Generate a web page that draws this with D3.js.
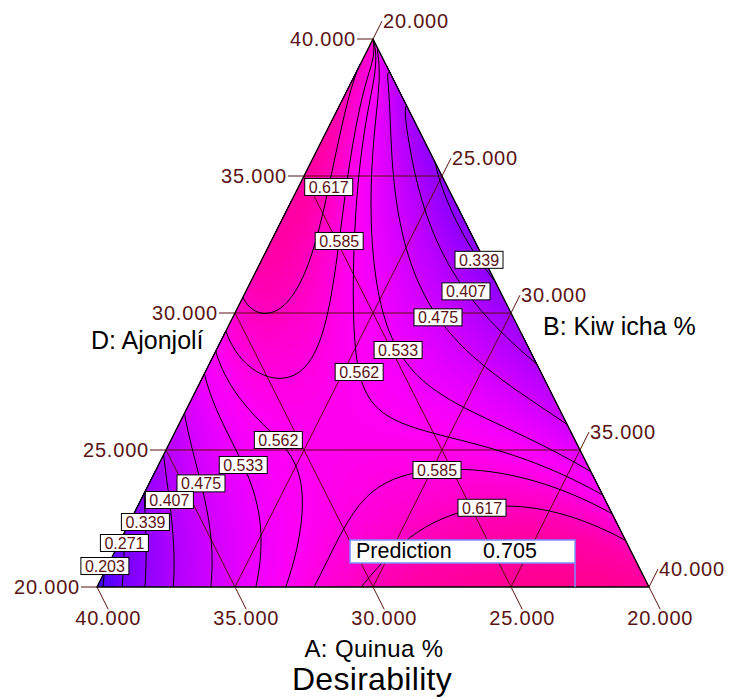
<!DOCTYPE html>
<html>
<head>
<meta charset="utf-8">
<script src="https://cdn.jsdelivr.net/npm/d3@7"></script>
<style>
  body { margin: 0; background: #fff; }
  svg { display: block; font-family: "Liberation Sans", Arial, sans-serif; }
</style>
</head>
<body>
<svg id="chart" width="729" height="697"></svg>
<script>
// ---- Desirability readings over the mixture (Kiwicha B %, Ajonjolí D %; Quinua A = 80 - B - D)
const sampleB = [20, 20.22, 20.62, 21.41, 22.36, 23.55, 26.63, 27.61, 28.44, 29.75, 33.00, 37.32, 40,
  20, 20.17, 20, 20, 20, 20, 20, 20, 20, 20, 20,
  21.31, 22.52, 24.31, 26.42, 28.50, 32.63, 33.54, 35.36, 36.46, 37.37, 38.54,
  21.11, 21.03, 21.84, 21.26, 21.65, 22.42, 23.00, 23.15, 22.97, 22.47, 20.33,
  22.26, 20.51, 25.64, 26.66, 29.95, 34.70, 22.66, 20.69, 26.58, 30.10,
  23.10, 27.43, 23.71, 26.02, 28.02, 24.66, 26.53, 27.98,
  20.59, 21.09, 22.03, 23.32, 24.04, 25.77, 27.11, 27.32, 30.09, 34.01,
  29.50, 30.14, 32.51, 36.37, 25.21, 20.66, 34.00,
  23.32, 25.51, 27.34, 30.26, 31.53, 23.18, 20.77, 29.53];
const sampleD = [20, 20, 20, 20, 20, 20, 20, 20, 20, 20, 20, 20, 20,
  20.99, 21.53, 23.6, 24.7, 25.99, 27.55, 28.36, 29.20, 30.58, 34.12, 39.12,
  38.69, 37.48, 35.69, 33.58, 31.50, 27.37, 26.46, 24.64, 23.54, 22.63, 21.46,
  35.04, 34.60, 32.12, 30.95, 35.04, 32.63, 31.09, 29.85, 28.76, 28.54, 39.12,
  35.04, 39.12, 27.85, 26.46, 25.11, 24.16, 35.04, 39.12, 28.65, 26.82,
  35.04, 29.85, 35.04, 33.03, 30.84, 35.04, 33.03, 32.08,
  22.37, 23.18, 23.83, 24.60, 25.62, 23.18, 23.18, 23.91, 24.45, 23.36,
  21.72, 22.19, 22.88, 22.26, 26.09, 33.39, 21.00,
  36.68, 34.49, 32.66, 29.74, 28.47, 36.31, 39.23, 30.47];
const sampleValue = [0.13, 0.203, 0.271, 0.339, 0.407, 0.475, 0.533, 0.562, 0.585, 0.617, 0.675, 0.705, 0.67,
  0.203, 0.271, 0.339, 0.407, 0.475, 0.533, 0.562, 0.585, 0.617, 0.65, 0.617,
  0.475, 0.407, 0.339, 0.32, 0.339, 0.407, 0.475, 0.533, 0.562, 0.585, 0.617,
  0.617, 0.617, 0.617, 0.617, 0.585, 0.585, 0.585, 0.585, 0.585, 0.585, 0.585,
  0.562, 0.562, 0.562, 0.562, 0.562, 0.562, 0.533, 0.533, 0.533, 0.533,
  0.475, 0.475, 0.407, 0.407, 0.407, 0.339, 0.339, 0.339,
  0.339, 0.407, 0.475, 0.533, 0.562, 0.562, 0.585, 0.585, 0.585, 0.585,
  0.617, 0.617, 0.617, 0.617, 0.573, 0.64, 0.67,
  0.375, 0.322, 0.322, 0.36, 0.385, 0.40, 0.50, 0.35];

// ---- Contour levels and their label anchors
const contourLevels = [0.203, 0.271, 0.339, 0.407, 0.475, 0.533, 0.562, 0.585, 0.617];
const labelLevel = [0.617, 0.585, 0.339, 0.407, 0.475, 0.533, 0.562, 0.562, 0.533, 0.475, 0.407, 0.339, 0.271, 0.203, 0.585, 0.617];
const labelB = [21.03, 22.42, 27.98, 28.02, 27.43, 26.58, 25.64, 24.04, 23.32, 22.03, 21.09, 20.59, 20.07, 20.39, 30.09, 32.51];
const labelD = [34.60, 32.63, 32.08, 30.84, 29.85, 28.65, 27.85, 25.62, 24.60, 23.83, 23.18, 22.37, 21.61, 20.88, 24.45, 22.88];

// ---- Axes
const tickValues = [20, 25, 30, 35, 40];
const gridValuesPct = [25, 30, 35];
const titleA = "A: Quinua %", titleB = "B: Kiw icha %", titleD = "D: Ajonjolí", chartTitle = "Desirability";

// ---- Prediction flag
const predictionB = 37.32, predictionD = 20, predictionValue = 0.705;

// ---------------------------------------------------------------
const svg = d3.select("#chart");
const tickColor = "#5a1414", gridColor = "#5c0d0d";

// Ajonjolí sets the row height, Kiwicha the position along the row
const yOfD = d3.scaleLinear().domain([20, 40]).range([587, 39]);
const xOfD = d3.scaleLinear().domain([20, 40]).range([97, 373]);
const xOfB = d3.scaleLinear().domain([20, 40]).range([0, 552]);
const proj = (B, D) => [xOfD(D) + xOfB(B), yOfD(D)];
const unproj = (x, y) => { const D = yOfD.invert(y); return [xOfB.invert(x - xOfD(D)), D]; };

// Ratio mixture model: quintic in d (Ajonjolí share) and r = B/(A+B), least squares
const degree = 5;
const frac = v => (v - 20) / 20;
function ratioCoords(B, D) {
  const d = Math.min(frac(D), 0.999);
  const r = Math.max(-0.3, Math.min(1.3, frac(B) / (1 - d)));
  return [r, d];
}
function terms(r, d) {
  const t = [];
  for (let i = 0; i <= degree; i++) for (let j = 0; j <= degree - i; j++) t.push(Math.pow(r, i) * Math.pow(d, j));
  return t;
}
const nT = terms(0, 0).length;
const normal = Array.from({ length: nT }, () => new Float64Array(nT + 1));
sampleB.forEach((B, k) => {
  const t = terms(...ratioCoords(B, sampleD[k]));
  for (let i = 0; i < nT; i++) {
    normal[i][nT] += t[i] * sampleValue[k];
    for (let j = 0; j < nT; j++) normal[i][j] += t[i] * t[j];
  }
});
for (let i = 0; i < nT; i++) normal[i][i] += 1e-5;
for (let c = 0; c < nT; c++) {
  let p = c;
  for (let r = c + 1; r < nT; r++) if (Math.abs(normal[r][c]) > Math.abs(normal[p][c])) p = r;
  [normal[c], normal[p]] = [normal[p], normal[c]];
  for (let r = 0; r < nT; r++) {
    if (r === c) continue;
    const f = normal[r][c] / normal[c][c];
    for (let k = c; k <= nT; k++) normal[r][k] -= f * normal[c][k];
  }
}
const coef = normal.map((row, i) => row[nT] / row[i]);
const model = (B, D) => { const t = terms(...ratioCoords(B, D)); let s = 0; for (let i = 0; i < nT; i++) s += coef[i] * t[i]; return s; };

function sampleGrid(x0, y0, nx, ny, s) {
  const vals = new Float64Array(nx * ny);
  for (let j = 0; j < ny; j++) for (let i = 0; i < nx; i++) {
    const [B, D] = unproj(x0 + i * s, y0 + j * s);
    vals[j * nx + i] = model(B, D);
  }
  return vals;
}
const gridPath = (x0, y0, s) => d3.geoPath(d3.geoTransform({
  point(x, y) { this.stream.point(x0 + (x - 0.5) * s, y0 + (y - 0.5) * s); }
}));

const vTop = proj(20, 40), vLeft = proj(20, 20), vRight = proj(40, 20);
svg.append("defs").append("clipPath").attr("id", "tri")
  .append("polygon").attr("points", [vTop, vLeft, vRight].map(p => p.join(",")).join(" "));

const plot = svg.append("g").attr("clip-path", "url(#tri)");

// Colour ramp: blue (low) through violet and magenta to pink (high)
const color = d3.scaleLinear()
  .domain([0.12, 0.2, 0.27, 0.32, 0.37, 0.42, 0.475, 0.53, 0.565, 0.6, 0.64, 0.71])
  .range(["#1a10ff", "#4a08ff", "#7400ff", "#8a00ff", "#9e00ff", "#b600ff", "#d000ff", "#ee00ff", "#ff00f4", "#ff00d0", "#ff00aa", "#ff008a"])
  .clamp(true);

// Smooth shaded fill
const fx0 = 88, fy0 = 30, fs = 2, fnx = 288, fny = 284;
const fillVals = sampleGrid(fx0, fy0, fnx, fny, fs);
const fillStep = 0.004;
const fillThresholds = d3.range(0.0, 0.8, fillStep);
plot.append("rect").attr("x", fx0 - 4).attr("y", fy0 - 4).attr("width", fnx * fs + 8).attr("height", fny * fs + 8)
  .attr("fill", color(d3.min(fillVals)));
const fillPath = gridPath(fx0, fy0, fs);
plot.append("g").selectAll("path")
  .data(d3.contours().size([fnx, fny]).thresholds(fillThresholds)(fillVals))
  .join("path")
  .attr("d", fillPath)
  .attr("fill", d => color(d.value + fillStep / 2))
  .attr("stroke", d => color(d.value + fillStep / 2))
  .attr("stroke-width", 0.6);

// Grid lines of constant A, B and D
const gridLines = [];
gridValuesPct.forEach(v => {
  gridLines.push([proj(20, v), proj(60 - v, v)]);        // D = v
  gridLines.push([proj(v, 20), proj(v, 60 - v)]);        // B = v
  gridLines.push([proj(60 - v, 20), proj(20, 60 - v)]);  // A = v
});
plot.append("g").selectAll("line").data(gridLines).join("line")
  .attr("x1", d => d[0][0]).attr("y1", d => d[0][1])
  .attr("x2", d => d[1][0]).attr("y2", d => d[1][1])
  .attr("stroke", gridColor).attr("stroke-width", 1);

// Contour lines
const lx0 = 88, ly0 = 30, ls = 1, lnx = 572, lny = 566;
const lineVals = sampleGrid(lx0, ly0, lnx, lny, ls);
const lineContours = d3.contours().size([lnx, lny]).thresholds(contourLevels)(lineVals);
const linePath = gridPath(lx0, ly0, ls);
plot.append("g").selectAll("path").data(lineContours).join("path")
  .attr("d", linePath).attr("fill", "none").attr("stroke", "#000").attr("stroke-width", 1);

// Triangle outline
svg.append("polygon").attr("points", [vTop, vLeft, vRight].map(p => p.join(",")).join(" "))
  .attr("fill", "none").attr("stroke", "#000").attr("stroke-width", 1.4);

// Contour labels placed on their lines
function inside(x, y) {
  const [B, D] = unproj(x, y);
  return D >= 19.9 && B >= 19.9 && (80 - B - D) >= 19.9;
}
function snap(level, tx, ty) {
  const geom = lineContours.find(c => Math.abs(c.value - level) < 1e-9);
  let best = [tx, ty], bd = 22 * 22;
  geom.coordinates.forEach(poly => poly.forEach(ring => ring.forEach(([cx, cy]) => {
    const X = lx0 + (cx - 0.5) * ls, Y = ly0 + (cy - 0.5) * ls;
    if (!inside(X, Y)) return;
    const dd = (X - tx) ** 2 + (Y - ty) ** 2;
    if (dd < bd) { bd = dd; best = [X, Y]; }
  })));
  return best;
}
const labels = labelLevel.map((lv, i) => {
  const [tx, ty] = proj(labelB[i], labelD[i]);
  const [x, y] = snap(lv, tx, ty);
  return { lv, x, y };
});
const lab = svg.append("g").selectAll("g").data(labels).join("g")
  .attr("transform", d => `translate(${d.x},${d.y})`);
lab.append("rect").attr("x", -24).attr("y", -8.5).attr("width", 48).attr("height", 17)
  .attr("fill", "#fff").attr("stroke", "#000").attr("stroke-width", 1);
lab.append("text").attr("text-anchor", "middle").attr("y", 6)
  .attr("font-size", 16).attr("fill", tickColor).text(d => d.lv.toFixed(3));

// Axis ticks and labels
const up = [0.4498, -0.8931], down = [0.4498, 0.8931];
const axes = svg.append("g").attr("font-size", 20).attr("fill", tickColor).attr("letter-spacing", "0.8px");
tickValues.forEach(v => {
  // D: Ajonjolí along the left edge
  const [dx, dy] = proj(20, v);
  axes.append("line").attr("x1", dx).attr("y1", dy).attr("x2", dx - 16).attr("y2", dy).attr("stroke", tickColor);
  axes.append("text").attr("x", dx - 17).attr("y", dy + 7).attr("text-anchor", "end").text(v.toFixed(3));
  // B: Kiwicha along the right edge
  const [bx, by] = proj(v, 60 - v);
  const be = [bx + up[0] * 20, by + up[1] * 20];
  axes.append("line").attr("x1", bx).attr("y1", by).attr("x2", be[0]).attr("y2", be[1]).attr("stroke", tickColor);
  axes.append("text").attr("x", be[0] + 1).attr("y", be[1] + 7).attr("text-anchor", "start").text(v.toFixed(3));
  // A: Quinua along the bottom edge
  const [ax, ay] = proj(60 - v, 20);
  const ae = [ax + down[0] * 25, ay + down[1] * 25];
  axes.append("line").attr("x1", ax).attr("y1", ay).attr("x2", ae[0]).attr("y2", ae[1]).attr("stroke", tickColor);
  axes.append("text").attr("x", ae[0]).attr("y", ae[1] + 16).attr("text-anchor", "middle").text(v.toFixed(3));
});

// Axis titles and chart title
svg.append("text").attr("x", 91).attr("y", 349).attr("font-size", 25).text(titleD);
svg.append("text").attr("x", 543).attr("y", 335).attr("font-size", 25).text(titleB);
svg.append("text").attr("x", 374).attr("y", 657).attr("font-size", 24).attr("letter-spacing", "0.4px")
  .attr("text-anchor", "middle").text(titleA);
svg.append("text").attr("x", 372).attr("y", 690).attr("font-size", 32).attr("letter-spacing", "0.3px")
  .attr("text-anchor", "middle").text(chartTitle);

// Prediction flag
const [pxx, pyy] = proj(predictionB, predictionD);
const flag = svg.append("g");
flag.append("line").attr("x1", pxx).attr("y1", pyy - 24).attr("x2", pxx).attr("y2", pyy)
  .attr("stroke", "#7d8cff").attr("stroke-width", 1.5);
flag.append("rect").attr("x", pxx - 225).attr("y", pyy - 47).attr("width", 225).attr("height", 23)
  .attr("fill", "#fff").attr("stroke", "#7d8cff").attr("stroke-width", 1.5);
flag.append("text").attr("x", pxx - 219).attr("y", pyy - 29).attr("font-size", 21.5).text("Prediction");
flag.append("text").attr("x", pxx - 92).attr("y", pyy - 29).attr("font-size", 21.5).text(predictionValue.toFixed(3));
</script>
</body>
</html>
